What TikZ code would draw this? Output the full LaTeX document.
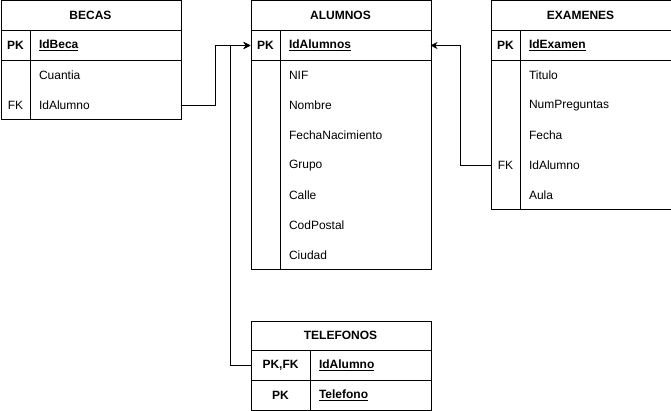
\documentclass[tikz,border=0pt]{standalone}
\usepackage{fontspec}
\setmainfont{Liberation Sans}
\usetikzlibrary{arrows.meta}

\begin{document}
\begin{tikzpicture}[x=1pt, y=-1pt, line width=1pt]
        \tikzstyle{every node}=[inner sep=0pt, font=\fontsize{12}{14}\selectfont]
        \tikzstyle{tabla}=[draw, rectangle, anchor=north west, minimum width=180pt]
        \tikzstyle{titulo}=[font=\fontsize{12}{14}\selectfont\bfseries]
        \tikzstyle{clave}=[font=\fontsize{12}{14}\selectfont\bfseries]
        \tikzstyle{campo}=[anchor=west]
        \tikzstyle{flecha}=[-{Stealth[length=7pt, width=7pt]}, line width=1pt]
        \useasboundingbox (0,0) rectangle (671,411);
        % BECAS
        \node [tabla, minimum height=119pt] (becas) at (0.5,0.5) {};
        \node [titulo] (becast) at (90.5,15.5) {BECAS};
        \draw (0.5,30.5) -- (180.5,30.5) (0.5,60.5) -- (180.5,60.5) (30.5,30.5) -- (30.5,119.5);
        \node [clave] (becaspk) at (15.5,45.5) {PK};
        \node [campo, clave] (idbeca) at (38.5,45.5) {\underline{IdBeca}};
        \node [campo] (cuantia) at (38.5,75.5) {Cuantia};
        \node (becasfk) at (15.5,105.5) {FK};
        \node [campo] (becasalumno) at (38.5,105.5) {IdAlumno};
        % ALUMNOS
        \node [tabla, minimum height=269pt] (alumnos) at (250.5,0.5) {};
        \node [titulo] (alumnost) at (340.5,15.5) {ALUMNOS};
        \draw (250.5,30.5) -- (430.5,30.5) (250.5,60.5) -- (430.5,60.5) (280.5,30.5) -- (280.5,269.5);
        \node [clave] (alumnospk) at (265.5,45.5) {PK};
        \node [campo, clave] (idalumnos) at (288.5,45.5) {\underline{IdAlumnos}};
        \foreach \campo [count=\i] in {NIF,Nombre,FechaNacimiento,Grupo,Calle,CodPostal,Ciudad}
            \node [campo] (alumnos\i) at (288.5,45.5+30*\i) {\campo};
        % EXAMENES
        \node [tabla, minimum height=209pt] (examenes) at (490.5,0.5) {};
        \node [titulo] (examenest) at (580.5,15.5) {EXAMENES};
        \draw (490.5,30.5) -- (670.5,30.5) (490.5,60.5) -- (670.5,60.5) (520.5,30.5) -- (520.5,209.5);
        \node [clave] (examenespk) at (505.5,45.5) {PK};
        \node [campo, clave] (idexamen) at (528.5,45.5) {\underline{IdExamen}};
        \foreach \campo [count=\i] in {Titulo,NumPreguntas,Fecha,IdAlumno,Aula}
            \node [campo] (examenes\i) at (528.5,45.5+30*\i) {\campo};
        \node (examenesfk) at (505.5,165.5) {FK};
        % TELEFONOS
        \node [tabla, minimum height=89pt] (telefonos) at (250.5,320.5) {};
        \node [titulo] (telefonost) at (340.5,335.5) {TELEFONOS};
        \draw (250.5,350.5) -- (430.5,350.5) (250.5,380.5) -- (430.5,380.5) (310.5,350.5) -- (310.5,409.5);
        \node [clave] (telefonospk1) at (280.5,365.5) {PK,FK};
        \node [campo, clave] (telalumno) at (318.5,365.5) {\underline{IdAlumno}};
        \node [clave] (telefonospk2) at (280.5,395.5) {PK};
        \node [campo, clave] (telefono) at (318.5,395.5) {\underline{Telefono}};
        % relaciones
        \coordinate (becasout) at (180.5,105.5);
        \coordinate (alumnosin) at (250.5,45.5);
        \coordinate (alumnosder) at (430.5,45.5);
        \coordinate (examenesout) at (490.5,165.5);
        \coordinate (telefonosout) at (250.5,365.5);
        \draw [flecha] (becasout) -- ++(35,0) |- (alumnosin);
        \draw [flecha] (telefonosout) -- ++(-20,0) |- (alumnosin);
        \draw [flecha] (examenesout) -- ++(-30,0) |- (alumnosder);
    \end{tikzpicture}
\end{document}
